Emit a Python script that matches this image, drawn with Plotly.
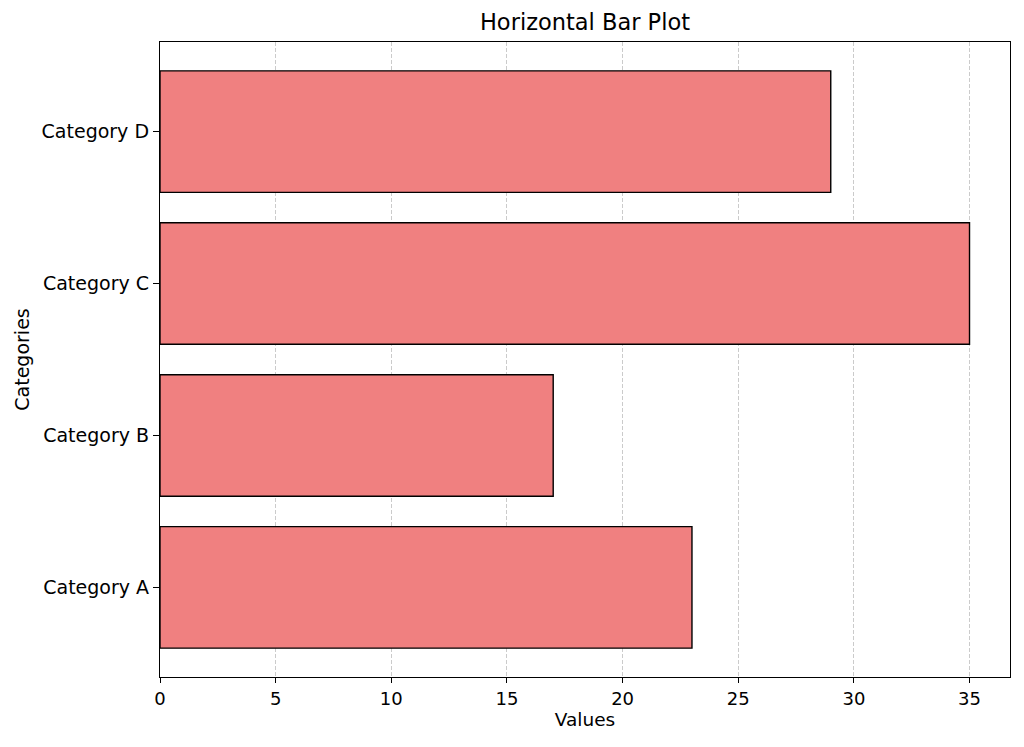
import plotly.graph_objects as go

categories = ["Category A", "Category B", "Category C", "Category D"]
values = [23, 17, 35, 29]
x_ticks = [0, 5, 10, 15, 20, 25, 30, 35]

positions = list(range(len(categories)))

W, H = 1008, 731
fig = go.Figure(go.Bar(
    x=values, y=positions, orientation="h", width=0.8,
    marker=dict(color="#F08080", line=dict(color="black", width=1.4)),
))

fig.update_layout(
    width=W, height=H,
    margin=dict(l=152, r=6, t=34, b=62),
    paper_bgcolor="white", plot_bgcolor="white",
    font=dict(family="DejaVu Sans", size=19, color="black"),
    title=dict(text="Horizontal Bar Plot", x=(585 - 8) / W, xanchor="center",
               y=1 - 14 / H, yanchor="middle",
               font=dict(size=22.5, color="black")),
    showlegend=False,
)
fig.update_xaxes(
    range=[0, 36.75], tickvals=x_ticks, ticks="outside", ticklen=5, tickcolor="black",
    tickwidth=1.2, tickfont=dict(size=18),
    showline=True, linecolor="black", linewidth=1.3, mirror=True,
    showgrid=True, gridcolor="rgba(190,190,190,0.8)", griddash="4px,2px", gridwidth=1,
    zeroline=False, layer="above traces",
    title=dict(text="Values", standoff=3, font=dict(size=18.5)),
)
fig.update_yaxes(
    range=[-0.59, 3.59], tickvals=positions, ticktext=categories,
    ticks="outside", ticklen=6, tickcolor="black", tickwidth=1.2,
    tickfont=dict(size=19),
    showline=True, linecolor="black", linewidth=1.3, mirror=True,
    showgrid=False, zeroline=False,
    title=dict(text="Categories", standoff=6, font=dict(size=19)),
)

fig.write_html("out.html")
